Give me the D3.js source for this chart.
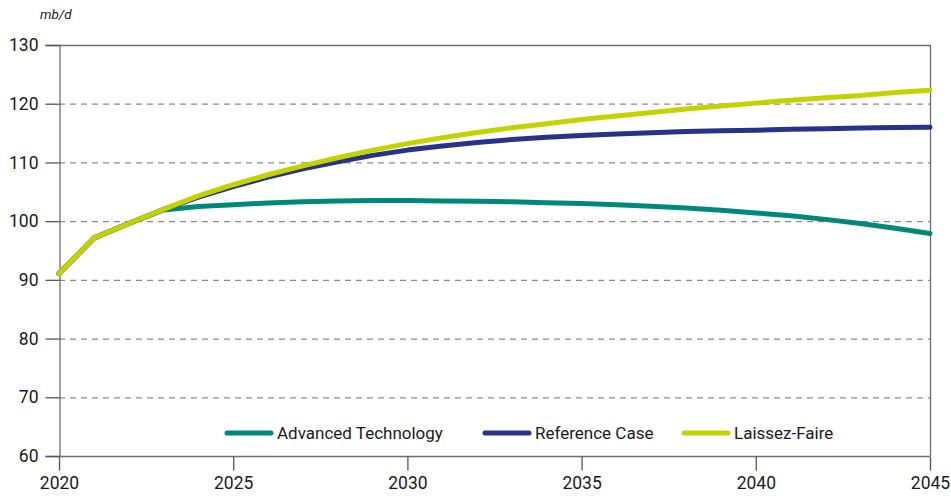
<!DOCTYPE html>
<html><head><meta charset="utf-8">
<script src="https://cdn.jsdelivr.net/npm/d3@7"></script>
<style>body{margin:0;background:#fff}svg{display:block}text{font-family:Roboto,"DejaVu Sans",sans-serif;fill:#1a1a1a}</style>
</head><body><svg id="c" width="951" height="496"></svg>
<script>
const years = d3.range(2020, 2046);
const advancedTechnology = [91.1,97.1,99.6,101.9,102.5,102.8,103.1,103.3,103.45,103.5,103.5,103.45,103.4,103.3,103.15,103.0,102.8,102.55,102.25,101.85,101.4,100.9,100.3,99.6,98.8,97.9];
const referenceCase = [91.1,97.1,99.6,102.0,104.1,105.9,107.5,108.9,110.1,111.2,112.1,112.8,113.4,113.9,114.3,114.6,114.85,115.05,115.25,115.4,115.5,115.65,115.75,115.85,115.95,116.0];
const laissezFaire = [91.1,97.1,99.6,102.0,104.3,106.2,107.9,109.4,110.8,112.1,113.2,114.2,115.1,115.9,116.6,117.3,117.9,118.5,119.1,119.6,120.1,120.6,121.0,121.4,121.9,122.3];
const seriesNames = ["Advanced Technology","Reference Case","Laissez-Faire"];
const seriesColors = ["#00897a","#283288","#c2d400"];
const yTicks = [60,70,80,90,100,110,120,130];
const xTicks = [2020,2025,2030,2035,2040,2045];
const unitLabel = "mb/d";

const svg = d3.select("#c");
const L=59, R=930, T=45, B=456;
const x = d3.scaleLinear().domain([2020,2045]).range([L,R]);
const y = d3.scaleLinear().domain([60,130]).range([B,T]);

svg.append("g").selectAll("line").data(yTicks.filter(v=>v>60&&v<130)).join("line")
  .attr("x1",L).attr("x2",R).attr("y1",d=>y(d)+0.5).attr("y2",d=>y(d)+0.5)
  .attr("stroke","#8a8a8a").attr("stroke-width",1.2).attr("stroke-dasharray","6,5");
svg.append("line").attr("x1",L).attr("x2",R).attr("y1",y(130)+0.5).attr("y2",y(130)+0.5).attr("stroke","#6e6e6e").attr("stroke-width",1.3);
svg.append("line").attr("x1",R+0.5).attr("x2",R+0.5).attr("y1",T).attr("y2",B).attr("stroke","#6e6e6e").attr("stroke-width",1.3);

const yAxis = svg.append("g").attr("transform",`translate(${L+0.5},0)`)
  .call(d3.axisLeft(y).tickValues(yTicks).tickSize(14).tickPadding(7).tickFormat(d3.format("d")));
const xAxis = svg.append("g").attr("transform",`translate(0,${B+0.5})`)
  .call(d3.axisBottom(x).tickValues(xTicks).tickSize(14).tickPadding(6).tickFormat(d3.format("d")));
[yAxis,xAxis].forEach(a=>{
  a.select(".domain").attr("stroke","#6e6e6e").attr("stroke-width",1.3);
  a.selectAll(".tick line").attr("stroke","#555").attr("stroke-width",1.3);
  a.selectAll("text").attr("font-size",17.5).attr("font-family","Roboto, sans-serif").attr("fill","#1a1a1a");
});
xAxis.select(".domain").attr("d",`M${L},0H${R}`);

svg.append("text").attr("x",40).attr("y",19).attr("font-size",13.5).attr("font-style","italic").text(unitLabel);

const line = d3.line().x((d,i)=>x(years[i])).y(d=>y(d)).curve(d3.curveLinear);
[advancedTechnology,referenceCase,laissezFaire].forEach((s,i)=>{
  svg.append("path").attr("d",line(s)).attr("fill","none").attr("stroke",seriesColors[i])
    .attr("stroke-width",5).attr("stroke-linejoin","round").attr("stroke-linecap","round");
});

const legX = [225,483,682];
const lg = svg.append("g");
seriesNames.forEach((n,i)=>{
  lg.append("line").attr("x1",legX[i]+2).attr("x2",legX[i]+46).attr("y1",433).attr("y2",433)
    .attr("stroke",seriesColors[i]).attr("stroke-width",5).attr("stroke-linecap","round");
  lg.append("text").attr("x",legX[i]+52).attr("y",439).attr("font-size",17).text(n);
});
</script></body></html>
